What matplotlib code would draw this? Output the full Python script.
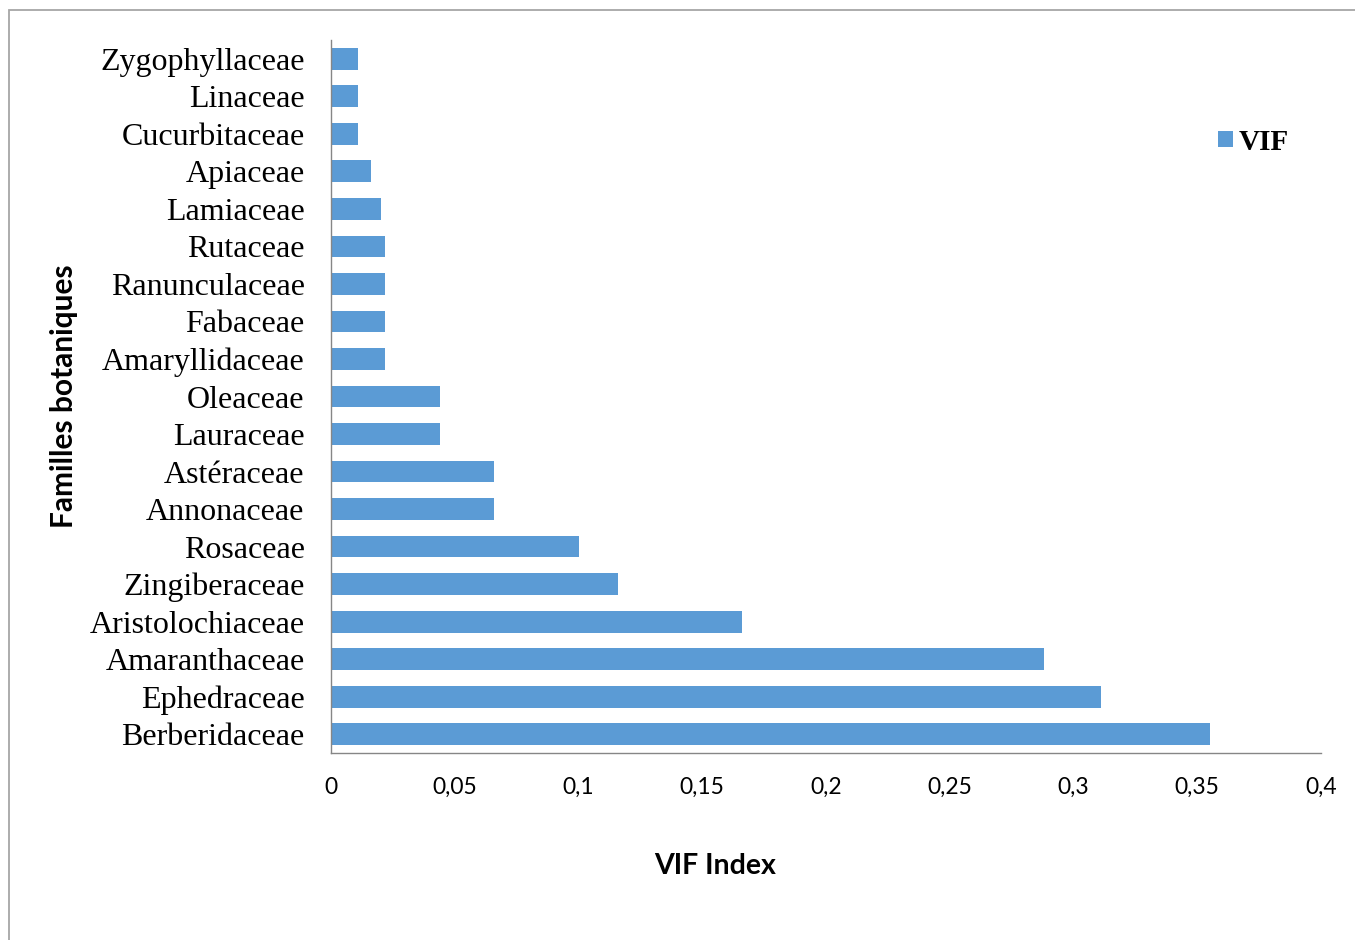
import matplotlib
matplotlib.use("Agg")
import matplotlib.pyplot as plt
from matplotlib.patches import Rectangle
from matplotlib.ticker import FuncFormatter, MultipleLocator

# familles, de bas en haut
familles = ["Berberidaceae", "Ephedraceae", "Amaranthaceae", "Aristolochiaceae",
            "Zingiberaceae", "Rosaceae", "Annonaceae", "Astéraceae", "Lauraceae",
            "Oleaceae", "Amaryllidaceae", "Fabaceae", "Ranunculaceae", "Rutaceae",
            "Lamiaceae", "Apiaceae", "Cucurbitaceae", "Linaceae", "Zygophyllaceae"]
vif = [0.355, 0.311, 0.288, 0.166, 0.116, 0.1, 0.066, 0.066, 0.044,
       0.044, 0.022, 0.022, 0.022, 0.022, 0.02, 0.016, 0.011, 0.011, 0.011]

BLUE = "#5B9BD5"
GRID = "#868686"

fig = plt.figure(figsize=(13.55, 9.4), dpi=100)
ax = fig.add_axes([331 / 1355, 1 - 753 / 940, 990 / 1355, 713 / 940])

bars = ax.barh(range(len(familles)), vif, height=0.58, color=BLUE, label="VIF")

ax.set_xlim(0, 0.4)
ax.set_ylim(-0.5, len(familles) - 0.5)
ax.xaxis.set_major_locator(MultipleLocator(0.05))
ax.xaxis.set_major_formatter(FuncFormatter(lambda v, p: f"{v:g}".replace(".", ",")))
ax.set_yticks(range(len(familles)))
ax.set_yticklabels(familles, family="Liberation Serif", fontsize=23)
for lab in ax.get_xticklabels():
    lab.set_family("Lato")
    lab.set_fontsize(16.5)
ax.tick_params(axis="x", length=0, pad=17)
ax.tick_params(axis="y", length=0, pad=19)

for s in ["top", "right"]:
    ax.spines[s].set_visible(False)
for s in ["left", "bottom"]:
    ax.spines[s].set_color(GRID)
    ax.spines[s].set_linewidth(1.0)

fig.text(715 / 1355, 1 - 866 / 940, "VIF Index", family="Lato", weight="bold",
         fontsize=20.5, ha="center", va="center")
fig.text(64 / 1355, 1 - 396 / 940, "Familles botaniques", family="Lato",
         weight="bold", fontsize=21.5, rotation=90, ha="center", va="center")

fig.legend(handles=[bars], labels=["VIF"], loc="center left",
           bbox_to_anchor=(1192 / 1355, 1 - 142 / 940), frameon=False,
           handlelength=0.5, handleheight=0.5, handletextpad=0.2,
           prop={"family": "Liberation Serif", "weight": "bold", "size": 21})

# cadre gris autour du graphique
fig.add_artist(Rectangle((9 / 1355, -0.05), 1.1, 0.05 + 930 / 940,
                         transform=fig.transFigure, fill=False,
                         edgecolor="#A6A6A6", linewidth=1.3))

fig.savefig("out.png", dpi=100)
